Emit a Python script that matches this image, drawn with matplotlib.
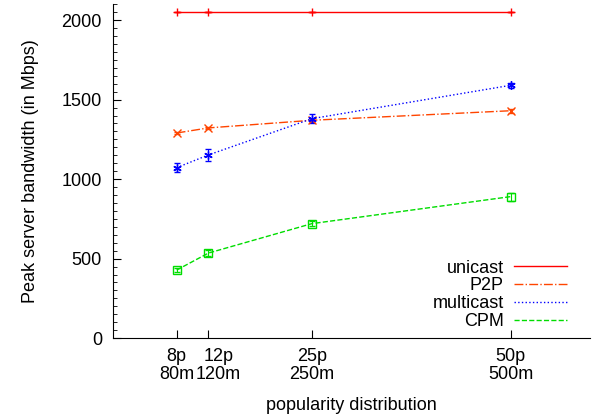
import matplotlib
matplotlib.use("Agg")
import matplotlib.pyplot as plt
from matplotlib.lines import Line2D
from matplotlib.ticker import MultipleLocator

plt.rcParams['font.family'] = ['Liberation Sans', 'DejaVu Sans']

popularity = [8, 12, 25, 50]
tickLabels = ["8p\n80m", "12p\n120m", "25p\n250m", "50p\n500m"]
labelShift = [0, 7, 0, 0]  # points, 12p label sits a bit right of its tick

unicast = [2050, 2050, 2050, 2050]
unicastErr = [0, 0, 0, 0]
p2p = [1290, 1322, 1370, 1430]
p2pErr = [8, 8, 10, 12]
multicast = [1072, 1152, 1380, 1590]
multicastErr = [30, 40, 28, 14]
cpm = [428, 535, 720, 890]
cpmErr = [15, 20, 15, 25]


def Main():
    fig = plt.figure(figsize=(5.98, 4.19), dpi=100)
    ax = fig.add_axes([0.189, 0.193, 0.798, 0.797])

    series = [
        ("unicast", unicast, unicastErr, "#ff0000", "-", "+"),
        ("P2P", p2p, p2pErr, "#ff4500", "-.", "x"),
        ("multicast", multicast, multicastErr, "#0000ff", ":", (6, 2, 0)),
        ("CPM", cpm, cpmErr, "#00dd00", "--", "s"),
    ]

    handles = []
    for label, values, errors, color, style, marker in series:
        ax.errorbar(popularity, values, yerr=errors, color=color, linestyle=style,
                    linewidth=1.0, marker=marker, markersize=6,
                    markerfacecolor="none", markeredgewidth=1.0,
                    capsize=2.5, elinewidth=0.8)
        handles.append(Line2D([0], [0], color=color, linestyle=style, linewidth=1.0))

    ax.set_xlim(0, 60)
    ax.set_ylim(0, 2100)
    ax.set_xticks(popularity)
    ax.set_xticklabels([])
    for x, text, shift in zip(popularity, tickLabels, labelShift):
        ax.annotate(text, xy=(x, 0), xycoords=("data", "axes fraction"),
                    xytext=(shift, -7), textcoords="offset points",
                    ha="center", va="top", fontsize=13, linespacing=1.05,
                    annotation_clip=False)
    ax.yaxis.set_major_locator(MultipleLocator(500))
    ax.yaxis.set_minor_locator(MultipleLocator(50))
    ax.tick_params(axis="y", labelsize=13, direction="in", length=6, pad=8)
    ax.tick_params(axis="y", which="minor", direction="in", length=3)
    ax.tick_params(axis="x", direction="in", length=6)
    ax.spines["top"].set_visible(False)
    ax.spines["right"].set_visible(False)

    ax.set_xlabel("popularity distribution", fontsize=13, labelpad=39)
    ax.set_ylabel("Peak server bandwidth (in Mbps)", fontsize=13, labelpad=16)

    leg = ax.legend(handles, ["unicast", "P2P", "multicast", "CPM"], loc="lower right",
                    bbox_to_anchor=(0.985, -0.025), frameon=False, markerfirst=False,
                    fontsize=13, handlelength=2.9, labelspacing=0.05, handletextpad=0.6)
    for t in leg.get_texts():
        t.set_ha("right")
    leg._legend_box.align = "right"

    fig.savefig("out.png", dpi=100)


Main()
